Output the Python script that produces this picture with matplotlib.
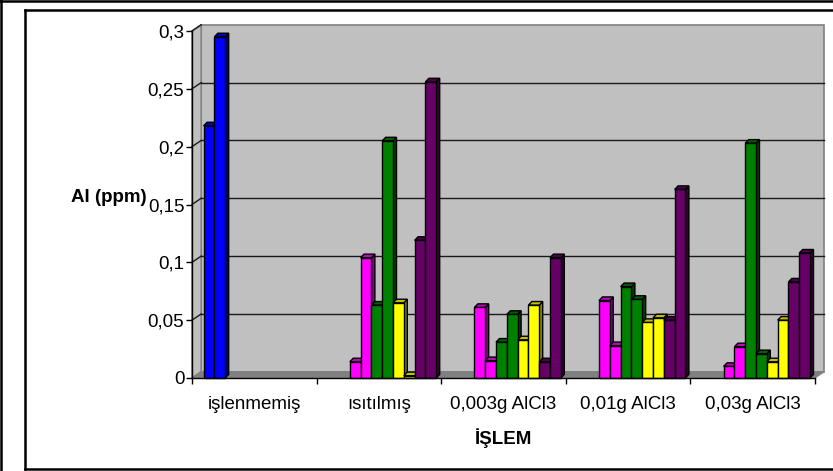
import numpy as np
import matplotlib
matplotlib.use('Agg')
import matplotlib.pyplot as plt
from matplotlib.patches import Polygon
from matplotlib.lines import Line2D
from matplotlib.ticker import FixedLocator, NullFormatter

plt.rcParams['font.family'] = ['Liberation Sans', 'DejaVu Sans']

nan = np.nan

# ── data (Al, ppm) ───────────────────────────────────────────────────────────
categories = ['işlenmemiş', 'ısıtılmış', '0,003g AlCl3', '0,01g AlCl3', '0,03g AlCl3']

blue_1    = [0.218, nan, nan, nan, nan]
blue_2    = [0.295, nan, nan, nan, nan]
magenta_1 = [nan, 0.014, 0.061, 0.067, 0.010]
magenta_2 = [nan, 0.104, 0.015, 0.028, 0.027]
green_1   = [nan, 0.063, 0.031, 0.079, 0.203]
green_2   = [nan, 0.205, 0.055, 0.068, 0.021]
yellow_1  = [nan, 0.065, 0.033, 0.048, 0.014]
yellow_2  = [nan, 0.002, 0.063, 0.052, 0.050]
purple_1  = [nan, 0.119, 0.014, 0.050, 0.083]
purple_2  = [nan, 0.256, 0.104, 0.163, 0.108]

y_ticks = [0, 0.05, 0.1, 0.15, 0.2, 0.25, 0.3]
y_tick_labels = ['0', '0,05', '0,1', '0,15', '0,2', '0,25', '0,3']

series = [blue_1, blue_2, magenta_1, magenta_2, green_1, green_2,
          yellow_1, yellow_2, purple_1, purple_2]

# (front, top, side) shades per series
BLUE    = ('#0000ff', '#0000c0', '#000080')
MAGENTA = ('#ff00ff', '#c000c0', '#800080')
GREEN   = ('#008000', '#006000', '#004000')
YELLOW  = ('#ffff00', '#c0c000', '#808000')
PURPLE  = ('#660066', '#4c004c', '#330033')
shades = [BLUE, BLUE, MAGENTA, MAGENTA, GREEN, GREEN,
          YELLOW, YELLOW, PURPLE, PURPLE]

WALL  = '#c0c0c0'
FLOOR = '#808080'
EDGE  = '#808080'
FS = 13.5

# ── geometry (category units / value units) ──────────────────────────────────
BAR_W = 0.0867        # one bar slot
GROUP_OFF = 0.093     # first slot offset from category boundary
DXB, DYB = 0.028, 0.0031   # bar depth
DXW, DYW = 0.074, 0.0054   # wall depth
YMAX = 0.3

W, H = 833, 471
fig = plt.figure(figsize=(W / 100, H / 100), dpi=100)
fig.patch.set_facecolor('white')


def fx(x):
    return x / W


def fy(y):
    return 1 - y / H


ax = fig.add_axes([fx(192), fy(378), 623 / W, 347 / H])
ax.set_xlim(0, len(categories))
ax.set_ylim(0, YMAX)
ax.patch.set_visible(False)
n = len(categories)

# walls and floor
ax.add_patch(Polygon([(DXW, DYW), (n + DXW, DYW), (n + DXW, YMAX + DYW), (DXW, YMAX + DYW)],
                     closed=True, fc=WALL, ec=EDGE, lw=1.2, zorder=0.5, clip_on=False))
ax.add_patch(Polygon([(0, 0), (DXW, DYW), (DXW, YMAX + DYW), (0, YMAX)],
                     closed=True, fc=WALL, ec=EDGE, lw=1.2, zorder=0.6, clip_on=False))
ax.add_patch(Polygon([(0, 0), (n, 0), (n + DXW, DYW), (DXW, DYW)],
                     closed=True, fc=FLOOR, ec=EDGE, lw=0.8, zorder=0.7, clip_on=False))

for v in y_ticks[1:-1]:
    ax.plot([DXW, n + DXW], [v + DYW, v + DYW], color='#1a1a1a', lw=1.0,
            zorder=0.8, clip_on=False)
for v in y_ticks[1:]:
    ax.plot([0, DXW], [v, v + DYW], color='#1a1a1a', lw=1.0, zorder=0.8, clip_on=False)

# 3D-looking columns
for k, (vals, (c_front, c_top, c_side)) in enumerate(zip(series, shades)):
    z = 2 + k * 0.02
    for i, v in enumerate(vals):
        if np.isnan(v):
            continue
        x0 = i + GROUP_OFF + k * BAR_W
        x1 = x0 + BAR_W
        ax.add_patch(Polygon([(x1, 0), (x1 + DXB, DYB), (x1 + DXB, v + DYB), (x1, v)],
                             closed=True, fc=c_side, ec='black', lw=1.0, zorder=z,
                             clip_on=False))
        ax.add_patch(Polygon([(x0, v), (x0 + DXB, v + DYB), (x1 + DXB, v + DYB), (x1, v)],
                             closed=True, fc=c_top, ec='black', lw=1.0, zorder=z,
                             clip_on=False))
        ax.bar(x0, v, width=BAR_W, align='edge', color=c_front, edgecolor='black',
               lw=1.0, zorder=z + 0.01, clip_on=False)

# axes lines and ticks
for s in ('top', 'right'):
    ax.spines[s].set_visible(False)
for s in ('left', 'bottom'):
    ax.spines[s].set_color('black')
    ax.spines[s].set_linewidth(1.0)
    ax.spines[s].set_zorder(3)

ax.set_yticks(y_ticks)
ax.set_yticklabels(y_tick_labels, fontsize=FS)
ax.tick_params(axis='y', direction='out', length=4.5, width=1, pad=1, colors='black')

ax.xaxis.set_major_locator(FixedLocator(np.arange(n + 1)))
ax.xaxis.set_major_formatter(NullFormatter())
ax.xaxis.set_minor_locator(FixedLocator(np.arange(n) + 0.5))
ax.set_xticklabels(categories, minor=True, fontsize=FS)
ax.tick_params(axis='x', which='major', direction='out', length=4.5, width=1)
ax.tick_params(axis='x', which='minor', length=0, pad=13)

fig.text(fx(147), fy(197), 'Al (ppm)', ha='right', va='center',
         fontsize=FS, fontweight='bold')
fig.text(fx(503), fy(438), 'İŞLEM', ha='center', va='center',
         fontsize=FS, fontweight='bold')

# chart frame
frame = [
    ([1, 1], [0, H]), ([0, W], [1, 1]),                     # page edge
    ([25, 25], [10, 469]), ([25, W + 5], [10, 10]), ([25, W + 5], [469, 469]),
]
for xs, ys in frame:
    fig.add_artist(Line2D([fx(x) for x in xs], [fy(y) for y in ys],
                          color='black', lw=1.8, transform=fig.transFigure))
fig.add_artist(Line2D([fx(26), fx(W + 5)], [fy(470.8), fy(470.8)],
                      color='#a0a0a0', lw=0.8, transform=fig.transFigure))

fig.savefig('out.png', dpi=100)
